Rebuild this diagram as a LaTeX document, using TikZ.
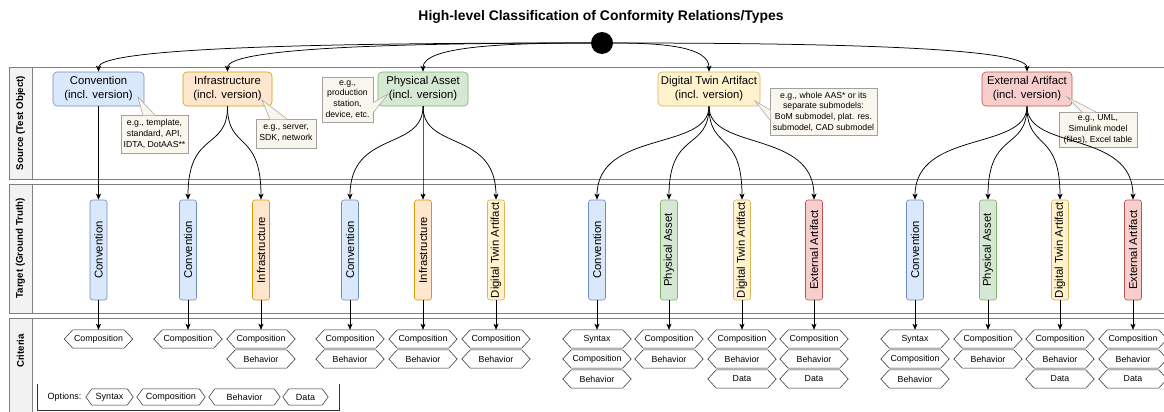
\documentclass[tikz,border=0pt]{standalone}
\usepackage{fontspec}
\setmainfont{Liberation Sans}
\usepackage{graphicx}
\usetikzlibrary{arrows.meta,calc}
\definecolor{cBlueF}{HTML}{DAE8FC}\definecolor{cBlueD}{HTML}{6C8EBF}
\definecolor{cOrF}{HTML}{FFE6CC}\definecolor{cOrD}{HTML}{D79B00}
\definecolor{cGrF}{HTML}{D5E8D4}\definecolor{cGrD}{HTML}{82B366}
\definecolor{cYeF}{HTML}{FFF2CC}\definecolor{cYeD}{HTML}{D6B656}
\definecolor{cReF}{HTML}{F8CECC}\definecolor{cReD}{HTML}{B85450}
\definecolor{noteF}{HTML}{F9F7ED}\definecolor{noteL}{HTML}{A0A0A0}
\definecolor{laneL}{HTML}{808080}\definecolor{laneF}{HTML}{F2F2F2}
\tikzset{
 cblue/.style={fill=cBlueF,draw=cBlueD},
 corange/.style={fill=cOrF,draw=cOrD},
 cgreen/.style={fill=cGrF,draw=cGrD},
 cyellow/.style={fill=cYeF,draw=cYeD},
 cred/.style={fill=cReF,draw=cReD},
 srcbox/.style={rounded corners=4pt,minimum width=90pt,minimum height=34pt,inner sep=1pt,align=center,font=\fontsize{11.3}{14}\selectfont,line width=0.6pt},
 tgtbox/.style={rounded corners=2.5pt,minimum width=17pt,minimum height=100pt,inner sep=0pt,font=\fontsize{11.3}{13}\selectfont,line width=0.6pt},
 hexa/.style={rectangle,minimum width=68pt,minimum height=18pt,inner sep=0pt,font=\fontsize{8.8}{10}\selectfont},
 hexline/.style={draw=black!85,line width=0.5pt,line join=miter},
 opthexa/.style={hexa,minimum height=16pt,font=\fontsize{9}{10}\selectfont},
 note/.style={draw=noteL,fill=noteF,line width=0.5pt,align=center,inner sep=1pt,font=\fontsize{8.7}{10.7}\selectfont},
 lane/.style={draw=laneL,line width=0.8pt},
 lanelabel/.style={rotate=90,font=\bfseries\fontsize{9.7}{11}\selectfont},
 arr/.style={line width=0.75pt,-{Stealth[length=6pt,width=5pt,inset=1.5pt]}},
 ptr/.style={draw=noteL,line width=0.5pt}
}
% outline of a hexagon node: #1 node name, #2 depth of the side points
\newcommand{\hexoutline}[2]{%
  \draw[hexline] (#1.west) -- ($(#1.north west)+(#2,0)$) -- ($(#1.north east)+(-#2,0)$) -- (#1.east)
    -- ($(#1.south east)+(-#2,0)$) -- ($(#1.south west)+(#2,0)$) -- cycle;}
\begin{document}
\begin{tikzpicture}[x=1pt,y=1pt]
\useasboundingbox (0,0) rectangle (1164,-412);
\clip (0,0) rectangle (1164,-412);
% lanes
\foreach \t/\b in {67/179,184/313,318/440}{
  \draw[lane,fill=white] (9,-\t) rectangle (1180,-\b);
  \draw[lane,fill=laneF] (9,-\t) rectangle (32,-\b);
}
\node[lanelabel] (lsrc) at (20.5,-123) {Source (Test Object)};
\node[lanelabel] (ltgt) at (20.5,-248.5) {Target (Ground Truth)};
\node[lanelabel] (lcrit) at (20.5,-351) {Criteria};
% title and start
\node[font=\bfseries\fontsize{13.9}{16}\selectfont] (title) at (601,-17) {High-level Classification of Conformity Relations/Types};
\node[circle,fill=black,minimum size=22pt,inner sep=0pt] (dot) at (602,-43) {};
% source boxes
\node[srcbox,cblue,minimum width=91pt] (sConv) at (98.5,-89) {Convention\\(incl. version)};
\node[srcbox,corange,minimum width=89pt] (sInf) at (227.5,-89) {Infrastructure\\(incl. version)};
\node[srcbox,cgreen] (sPA) at (423,-89) {Physical Asset\\(incl. version)};
\node[srcbox,cyellow,minimum width=102pt] (sDTA) at (709,-89) {Digital Twin Artifact\\(incl. version)};
\node[srcbox,cred] (sExt) at (1027,-89) {External Artifact\\(incl. version)};
% arrows from start
\draw[arr] (dot.west) .. controls ($(dot.west)+(-190,0)$) and ($(sConv.north)+(0,27)$) .. (sConv.north);
\draw[arr] (dot.west) .. controls ($(dot.west)+(-170,0)$) and ($(sInf.north)+(0,25)$) .. (sInf.north);
\draw[arr] (dot.west) .. controls ($(dot.west)+(-90,0)$) and ($(sPA.north)+(0,25)$) .. (sPA.north);
\draw[arr] (dot.east) .. controls ($(dot.east)+(50,0)$) and ($(sDTA.north)+(0,25)$) .. (sDTA.north);
\draw[arr] (dot.east) .. controls ($(dot.east)+(200,0)$) and ($(sExt.north)+(0,25)$) .. (sExt.north);
% notes
\node[note,minimum width=67pt,minimum height=38pt] (n1) at (154.5,-134) {e.g., template,\\standard, API,\\IDTA, DotAAS**};
\coordinate (p1) at (138,-97);
\fill[noteF] (p1) -- ($(n1.north west)+(22,-0.6)$) -- ($(n1.north west)+(34,-0.6)$) -- cycle;
\draw[ptr] ($(n1.north west)+(22,0)$) -- (p1) -- ($(n1.north west)+(34,0)$);
\node[note,minimum width=60pt,minimum height=29pt] (n2) at (286,-133.5) {e.g., server,\\SDK, network};
\coordinate (p2) at (262,-100);
\fill[noteF] (p2) -- ($(n2.north west)+(14,-0.6)$) -- ($(n2.north west)+(31,-0.6)$) -- cycle;
\draw[ptr] ($(n2.north west)+(14,0)$) -- (p2) -- ($(n2.north west)+(31,0)$);
\node[note,minimum width=51pt,minimum height=45pt] (n3) at (347.5,-99.5) {e.g.,\\production\\station,\\device, etc.};
\coordinate (p3) at (388,-94);
\fill[noteF] (p3) -- ($(n3.north east)+(-0.6,-26)$) -- ($(n3.north east)+(-0.6,-36)$) -- cycle;
\draw[ptr] ($(n3.north east)+(0,-26)$) -- (p3) -- ($(n3.north east)+(0,-36)$);
\node[note,minimum width=107pt,minimum height=47pt] (n4) at (823.5,-111.5) {e.g., whole AAS* or its\\separate submodels:\\BoM submodel, plat. res.\\submodel, CAD submodel};
\coordinate (p4) at (755,-101);
\fill[noteF] (p4) -- ($(n4.north west)+(0.6,-22)$) -- ($(n4.north west)+(0.6,-32)$) -- cycle;
\draw[ptr] ($(n4.north west)+(0,-22)$) -- (p4) -- ($(n4.north west)+(0,-32)$);
\node[note,minimum width=78pt,minimum height=35pt] (n5) at (1098,-129.5) {e.g., UML,\\Simulink model\\(files), Excel table};
\coordinate (p5) at (1067,-97);
\fill[noteF] (p5) -- ($(n5.north west)+(23,-0.6)$) -- ($(n5.north west)+(37,-0.6)$) -- cycle;
\draw[ptr] ($(n5.north west)+(23,0)$) -- (p5) -- ($(n5.north west)+(37,0)$);
% targets
\foreach \n/\x/\c/\t in {t1/98.5/cblue/Convention, t2/188/cblue/Convention, t3/261/corange/Infrastructure,
  t4/350/cblue/Convention, t5/423/corange/Infrastructure, t6/496/cyellow/Digital Twin Artifact,
  t7/597/cblue/Convention, t8/669/cgreen/Physical Asset, t9/742/cyellow/Digital Twin Artifact, t10/814/cred/External Artifact,
  t11/915/cblue/Convention, t12/988/cgreen/Physical Asset, t13/1060/cyellow/Digital Twin Artifact, t14/1133/cred/External Artifact}{
  \node[tgtbox,\c] (\n) at (\x,-250) {\rotatebox{90}{\t}};
}
% source -> target
\foreach \s/\t in {sConv/t1, sInf/t2, sInf/t3, sPA/t4, sPA/t5, sPA/t6, sDTA/t7, sDTA/t8, sDTA/t9, sDTA/t10,
  sExt/t11, sExt/t12, sExt/t13, sExt/t14}{
  \draw[arr] (\s.south) .. controls ($(\s.south)+(0,-45)$) and ($(\t.north)+(0,70)$) .. (\t.north);
}
% criteria
\foreach \i/\x/\items in {1/98.5/{Composition}, 2/188/{Composition}, 3/261/{Composition,Behavior},
  4/350/{Composition,Behavior}, 5/423/{Composition,Behavior}, 6/496/{Composition,Behavior},
  7/597/{Syntax,Composition,Behavior}, 8/669/{Composition,Behavior}, 9/742/{Composition,Behavior,Data},
  10/814/{Composition,Behavior,Data}, 11/915/{Syntax,Composition,Behavior}, 12/988/{Composition,Behavior},
  13/1060/{Composition,Behavior,Data}, 14/1133/{Composition,Behavior,Data}}{
  \foreach \it [count=\r] in \items {
    \node[hexa] (c\i-\r) at (\x,{-339-20*(\r-1)}) {\it};
    \hexoutline{c\i-\r}{8.5}
  }
  \draw[arr] (t\i.south) -- (c\i-1.north);
}
% options
\draw[black!80,line width=0.6pt] (37,-384) -- (37,-410) -- (339,-410) -- (339,-384);
\node[font=\fontsize{9}{10}\selectfont] (optlbl) at (64.5,-397) {Options:};
\node[opthexa,minimum width=47pt] (o1) at (109.5,-397) {Syntax};
\node[opthexa,minimum width=68pt] (o2) at (171,-397) {Composition};
\node[opthexa,minimum width=71pt] (o3) at (244.5,-397) {Behavior};
\node[opthexa,minimum width=45pt] (o4) at (305.5,-397) {Data};
\foreach \o in {o1,o2,o3,o4}{\hexoutline{\o}{6}}
\end{tikzpicture}
\end{document}
